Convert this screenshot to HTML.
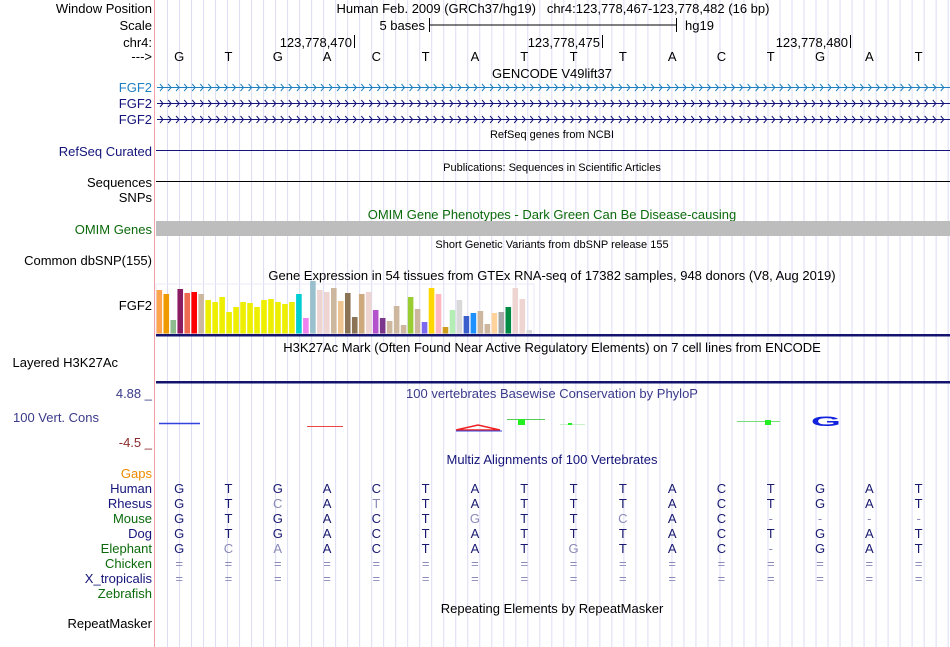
<!DOCTYPE html>
<html><head><meta charset="utf-8"><style>
html,body{margin:0;padding:0;background:#fff;width:950px;height:647px;overflow:hidden}
svg{display:block;font-family:"Liberation Sans",sans-serif}
</style></head><body>
<svg id="s" width="950" height="647" viewBox="0 0 950 647">
<g id="grid"></g>
<line x1="154.5" y1="0" x2="154.5" y2="647" stroke="#f4a0a8" stroke-width="1"/>
<g font-size="13" text-anchor="end" fill="#000">
<text x="152" y="13">Window Position</text>
<text x="152" y="30">Scale</text>
<text x="152" y="47">chr4:</text>
<text x="152" y="61">---&gt;</text>
<text x="152" y="92" fill="#1e7fc0">FGF2</text>
<text x="152" y="108" fill="#14147a">FGF2</text>
<text x="152" y="124" fill="#14147a">FGF2</text>
<text x="152" y="156" fill="#14147a">RefSeq Curated</text>
<text x="152" y="187">Sequences</text>
<text x="152" y="202">SNPs</text>
<text x="152" y="234" fill="#0b6a0b">OMIM Genes</text>
<text x="152" y="265">Common dbSNP(155)</text>
<text x="152" y="310">FGF2</text>
<text x="118" y="367">Layered H3K27Ac</text>
<text x="152" y="398" fill="#3a3a8a">4.88 _</text>
<text x="99" y="422" fill="#3a3a8a">100 Vert. Cons</text>
<text x="152" y="447" fill="#8a2a2a">-4.5 _</text>
<text x="152" y="478" fill="#ee8a00">Gaps</text>
<text x="152" y="493" fill="#14147a">Human</text>
<text x="152" y="508" fill="#14147a">Rhesus</text>
<text x="152" y="523" fill="#0b6a0b">Mouse</text>
<text x="152" y="538" fill="#14147a">Dog</text>
<text x="152" y="553" fill="#0b6a0b">Elephant</text>
<text x="152" y="568" fill="#0b6a0b">Chicken</text>
<text x="152" y="583" fill="#14147a">X_tropicalis</text>
<text x="152" y="598" fill="#0b6a0b">Zebrafish</text>
<text x="152" y="628">RepeatMasker</text>
</g>
<g font-size="13" text-anchor="middle">
<text x="553" y="13">Human Feb. 2009 (GRCh37/hg19)&#160;&#160;&#160;chr4:123,778,467-123,778,482 (16 bp)</text>
<text x="552" y="78">GENCODE V49lift37</text>
<text x="552" y="138" font-size="11">RefSeq genes from NCBI</text>
<text x="552" y="171" font-size="11">Publications: Sequences in Scientific Articles</text>
<text x="552" y="219" fill="#0b6a0b">OMIM Gene Phenotypes - Dark Green Can Be Disease-causing</text>
<text x="552" y="248" font-size="11">Short Genetic Variants from dbSNP release 155</text>
<text x="552" y="280">Gene Expression in 54 tissues from GTEx RNA-seq of 17382 samples, 948 donors (V8, Aug 2019)</text>
<text x="552" y="352">H3K27Ac Mark (Often Found Near Active Regulatory Elements) on 7 cell lines from ENCODE</text>
<text x="552" y="398" fill="#3a3a8a">100 vertebrates Basewise Conservation by PhyloP</text>
<text x="552" y="464" fill="#14147a">Multiz Alignments of 100 Vertebrates</text>
<text x="552" y="613">Repeating Elements by RepeatMasker</text>
</g>
<g>
<text x="425" y="30" font-size="13" text-anchor="end">5 bases</text>
<line x1="429.5" y1="18" x2="429.5" y2="32" stroke="#000"/>
<line x1="429.5" y1="25" x2="676.5" y2="25" stroke="#000"/>
<line x1="676.5" y1="18" x2="676.5" y2="32" stroke="#000"/>
<text x="685" y="30" font-size="13">hg19</text>
</g>
<g font-size="13" text-anchor="end">
<text x="352" y="47">123,778,470</text><line x1="354.5" y1="35" x2="354.5" y2="48" stroke="#000"/>
<text x="600" y="47">123,778,475</text><line x1="602.5" y1="35" x2="602.5" y2="48" stroke="#000"/>
<text x="848" y="47">123,778,480</text><line x1="850.5" y1="35" x2="850.5" y2="48" stroke="#000"/>
</g>
<g id="bases" font-size="13" text-anchor="middle"></g>
<g id="genes"></g>
<line x1="156" y1="150.5" x2="950" y2="150.5" stroke="#14147a"/>
<line x1="156" y1="181.5" x2="950" y2="181.5" stroke="#000"/>
<rect x="156" y="221" width="794" height="15" fill="#bdbdbd"/>
<g id="gtex"></g>
<rect x="156" y="334" width="794" height="2.5" fill="#14146e"/>
<rect x="156" y="381" width="794" height="2.5" fill="#14146e"/>
<g>
<line x1="159" y1="423.5" x2="200" y2="423.5" stroke="#3344dd" stroke-width="1.5"/>
<line x1="307" y1="426.5" x2="343" y2="426.5" stroke="#ee4444" stroke-width="1"/>
<path d="M456 430 L478 425 L500 430 Z" fill="none" stroke="#ee2222" stroke-width="1.5"/>
<line x1="456" y1="431" x2="502" y2="431" stroke="#3344dd"/>
<line x1="507" y1="419.5" x2="545" y2="419.5" stroke="#55cc55"/>
<rect x="518" y="419" width="7" height="6" fill="#22ee22"/>
<line x1="560" y1="424.5" x2="585" y2="424.5" stroke="#c8f0c8"/>
<rect x="568" y="423" width="4" height="2" fill="#22ee22"/>
<line x1="737" y1="421.5" x2="780" y2="421.5" stroke="#77dd77"/>
<rect x="765" y="420" width="6" height="5" fill="#22ee22"/>
<text x="826" y="427" font-size="16" font-weight="bold" fill="#1122dd" text-anchor="middle" transform="translate(826 421) scale(2.4 0.85) translate(-826 -421)">G</text>
</g>
<g id="multiz" font-size="13" text-anchor="middle"></g>
</svg>
<script>
var tissueHeights=[41,37,11,42,38,39,37,31,29,34,19,24,29,28,24,31,32,29,27,29,37,13,50,41,39,43,30,38,14,37,39,21,13,10,25,6,34,22,9,43,37,4,21,31,15,18,20,7,18,19,24,43,32,1];
var tissueColors=["#FFA54F","#EE9A00","#8FBC8F","#8B1C62","#EE6A50","#FF0000","#CDB79E","#EEEE00","#EEEE00","#EEEE00","#EEEE00","#EEEE00","#EEEE00","#EEEE00","#EEEE00","#EEEE00","#EEEE00","#EEEE00","#EEEE00","#EEEE00","#00CED1","#EE82EE","#9AC0CD","#EED5D2","#EED5D2","#CDB79E","#EEC591","#8B7355","#8B7355","#CDAA7D","#EED5D2","#B452CD","#7A378B","#CDB79E","#CDB79E","#CDB79E","#9ACD32","#CDB79E","#7B68EE","#FFD700","#FFB6C1","#CD9B1D","#B4EEB4","#D9D9D9","#3A5FCD","#1E90FF","#CDB79E","#CDB79E","#FFD39B","#A6A6A6","#008B45","#EED5D2","#EED5D2","#D9D9D9"];
var refBases=["G","T","G","A","C","T","A","T","T","T","A","C","T","G","A","T"];
var species=["Human","Rhesus","Mouse","Dog","Elephant","Chicken","X_tropicalis"];
var alnHuman=["G","T","G","A","C","T","A","T","T","T","A","C","T","G","A","T"];
var alnRhesus=["G","T","c","A","t","T","A","T","T","T","A","C","T","G","A","T"];
var alnMouse=["G","T","G","A","C","T","g","T","T","c","A","C","-","-","-","-"];
var alnDog=["G","T","G","A","C","T","A","T","T","T","A","C","T","G","A","T"];
var alnElephant=["G","c","a","A","C","T","A","T","g","T","A","C","-","G","A","T"];
var alnChicken=["=","=","=","=","=","=","=","=","=","=","=","=","=","=","=","="];
var alnXtrop=["=","=","=","=","=","=","=","=","=","=","=","=","=","=","=","="];
var NS="http://www.w3.org/2000/svg";
function mk(t,a,p){var e=document.createElementNS(NS,t);for(var k in a)e.setAttribute(k,a[k]);p.appendChild(e);return e;}
function baseX(i){return 154.5+49.3*(i+0.5);}
var grid=document.getElementById('grid');
for(var k=0;k<66;k++){var gx=167.5+12.01*k;var gl=mk('line',{x1:gx,y1:0,x2:gx,y2:647,stroke:'#dcdcf4','stroke-width':1},grid);

}
var bg=document.getElementById('bases');
refBases.forEach(function(b,i){var t=mk('text',{x:baseX(i),y:61},bg);t.textContent=b;

});
var genes=document.getElementById('genes');
[[87,'#1e7fc0'],[103,'#14147a'],[119,'#14147a']].forEach(function(r,j){
var d='M157 '+(r[0]+.5)+' L950 '+(r[0]+.5);
for(var x=160;x<948;x+=8.05){d+=' M'+x.toFixed(1)+' '+(r[0]-3)+' L'+(x+3).toFixed(1)+' '+(r[0]+.5)+' L'+x.toFixed(1)+' '+(r[0]+4);}
var p=mk('path',{d:d,stroke:r[1],fill:'none','stroke-width':1},genes);

});
var gt=document.getElementById('gtex');
var fr=mk('rect',{x:156,y:284,width:378,height:50,fill:'none',stroke:'#eaeaf6'},gt);


var maxH=50,base=331,bw=6.98;
tissueHeights.forEach(function(h,i){var x=156.5+bw*i;var hh=h/50*maxH;
var r=mk('rect',{x:x.toFixed(2),y:(base-hh).toFixed(2),width:5.6,height:hh.toFixed(2),fill:tissueColors[i]},gt);


var s=mk('rect',{x:x.toFixed(2),y:331,width:5.6,height:2.5,fill:tissueColors[i]},gt);

});
var mz=document.getElementById('multiz');
[alnHuman,alnRhesus,alnMouse,alnDog,alnElephant,alnChicken,alnXtrop].forEach(function(row,r){
row.forEach(function(c,i){var gray=(c!==c.toUpperCase())||c==='-'||c==='=';
var t=mk('text',{x:baseX(i),y:493+15*r,fill:gray?'#8a8ab8':'#191970'},mz);t.textContent=c.toUpperCase();

});});
</script>
</body></html>
